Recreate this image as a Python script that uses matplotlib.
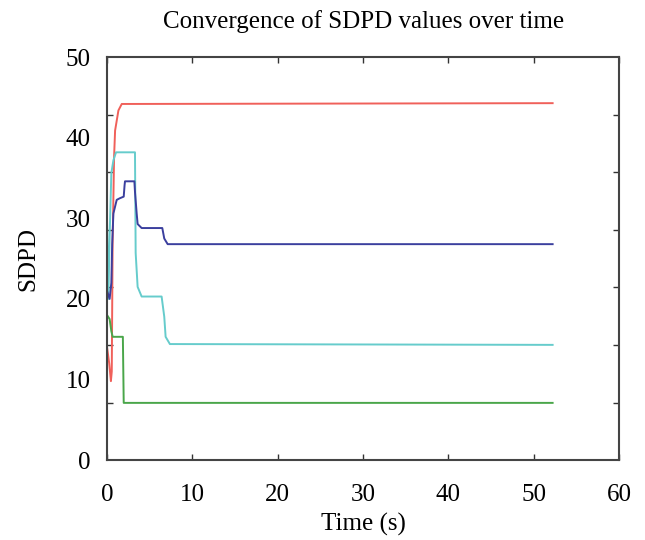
import matplotlib
matplotlib.use("Agg")
import matplotlib.pyplot as plt
import numpy as np

plt.rcParams['font.family'] = ['Liberation Serif', 'DejaVu Serif']

# SDPD traces (time in s, SDPD value)
t_red = [0, 0.25, 0.45, 0.55, 0.65, 0.82, 0.94, 1.33, 1.72, 52.2]
v_red = [14, 12, 9.8, 11, 26.8, 37.6, 40.9, 43.4, 44.2, 44.3]

t_cyan = [0, 0.15, 0.3, 0.5, 0.74, 1.05, 3.27, 3.35, 3.58, 4.05, 6.39, 6.7, 6.86, 7.36, 52.2]
v_cyan = [29.5, 20, 27.8, 35.6, 37.2, 38.2, 38.2, 25.7, 21.5, 20.3, 20.3, 17.8, 15.3, 14.4, 14.3]

t_blue = [0, 0.3, 0.5, 0.6, 0.74, 1.13, 1.5, 1.95, 2.05, 2.1, 3.2, 3.27, 3.47, 3.58, 4.05, 6.47, 6.7, 7.1, 52.2]
v_blue = [21, 20, 22, 26.8, 30.6, 32.3, 32.5, 32.7, 34.1, 34.6, 34.6, 33.3, 30.6, 29.3, 28.8, 28.8, 27.5, 26.8, 26.8]

t_green = [0, 0.3, 0.5, 0.66, 1.85, 1.95, 52.2]
v_green = [18, 17.5, 16, 15.3, 15.3, 7.1, 7.1]

x_ticks = [0, 10, 20, 30, 40, 50, 60]
y_labels = [0, 10, 20, 30, 40, 50]

fig = plt.figure(figsize=(6.45, 5.4), dpi=100)
ax = fig.add_axes([0.166, 0.148, 0.794, 0.746])

ax.plot(t_red, v_red, color='#f0605a', lw=1.4)
ax.plot(t_cyan, v_cyan, color='#66cccc', lw=1.4)
ax.plot(t_blue, v_blue, color='#3b3f9e', lw=1.4)
ax.plot(t_green, v_green, color='#4aa64a', lw=1.4)

ax.set_xlim(0, 60)
ax.set_ylim(0, 50)

# x ticks
ax.set_xticks(x_ticks)
ax.tick_params(axis='x', which='major', direction='in', length=4, width=1,
               top=True, bottom=True, labelsize=18, pad=17.5, color='#333333')

# y: labels every 10, tick marks split into 7 intervals (as in the original)
ax.set_yticks(y_labels)
ax.set_yticks(np.linspace(0, 50, 8), minor=True)
ax.tick_params(axis='y', which='major', length=0, labelsize=18, pad=12)
ax.tick_params(axis='y', which='minor', direction='in', length=4, width=1,
               left=True, right=True, color='#333333')

for sp in ax.spines.values():
    sp.set_linewidth(1.5)
    sp.set_color('#444444')

ax.set_xlabel("Time (s)", fontsize=18, labelpad=5)
ax.set_ylabel("SDPD", fontsize=18, labelpad=19)
ax.set_title("Convergence of SDPD values over time", fontsize=18, pad=21)

fig.savefig("out.png", dpi=100)
